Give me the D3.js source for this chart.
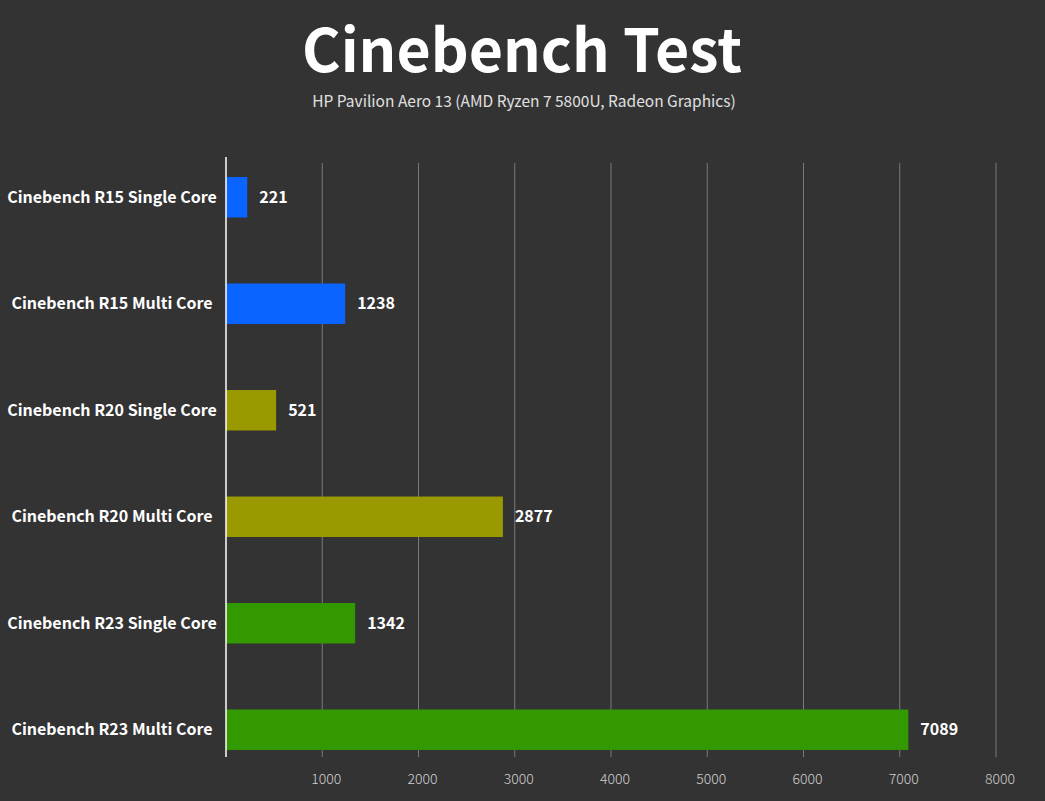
<!DOCTYPE html>
<html lang="en">
  <head>
    <meta charset="UTF-8" />
    <title>Cinebench Test</title>
    <script src="https://d3js.org/d3.v7.min.js"></script>
    <style>
      body {
        margin: 0;
        background-color: #333333;
        font-family: "Noto Sans CJK SC", "Noto Sans", sans-serif;
      }
      .bar-label {
        fill: #ffffff;
        font-size: 16px;
        font-weight: bold;
      }
      .value-label {
        fill: #ffffff;
        font-size: 16px;
        font-weight: bold;
      }
      .tick-label {
        fill: #d0d0d0;
        font-size: 14px;
        font-weight: 300;
      }
    </style>
  </head>
  <body>
    <div id="chart"></div>
    <script>
      // Data
      const tests = [
        "Cinebench R15 Single Core",
        "Cinebench R15 Multi Core",
        "Cinebench R20 Single Core",
        "Cinebench R20 Multi Core",
        "Cinebench R23 Single Core",
        "Cinebench R23 Multi Core",
      ];
      const scores = [221, 1238, 521, 2877, 1342, 7089];
      const versions = ["R15", "R15", "R20", "R20", "R23", "R23"];
      const tickValues = [1000, 2000, 3000, 4000, 5000, 6000, 7000, 8000];

      const width = 1045,
        height = 801;

      const svg = d3
        .select("#chart")
        .append("svg")
        .attr("width", width)
        .attr("height", height);

      svg
        .append("rect")
        .attr("width", width)
        .attr("height", height)
        .attr("fill", "#333333");

      // Title
      svg
        .append("text")
        .attr("x", 522)
        .attr("y", 72)
        .attr("text-anchor", "middle")
        .attr("fill", "#ffffff")
        .attr("font-size", "59px")
        .attr("font-weight", "bold")
        .text("Cinebench Test");

      svg
        .append("text")
        .attr("x", 524)
        .attr("y", 107)
        .attr("text-anchor", "middle")
        .attr("fill", "#e0e0e0")
        .attr("font-size", "15.5px")
        .text("HP Pavilion Aero 13 (AMD Ryzen 7 5800U, Radeon Graphics)");

      // Scales
      const x = d3.scaleLinear().domain([0, 8000]).range([226, 996]);

      const y = d3
        .scaleBand()
        .domain(tests)
        .range([144, 783])
        .paddingInner(0.62)
        .paddingOuter(0.31);

      const color = d3
        .scaleOrdinal()
        .domain(["R15", "R20", "R23"])
        .range(["#0a64ff", "#9a9a00", "#339900"]);

      // Gridlines
      svg
        .selectAll(".grid")
        .data(tickValues)
        .enter()
        .append("line")
        .attr("class", "grid")
        .attr("x1", (d) => x(d))
        .attr("x2", (d) => x(d))
        .attr("y1", 163)
        .attr("y2", 757)
        .attr("stroke", "#7a7a7a")
        .attr("stroke-width", 1);

      // Tick labels
      svg
        .selectAll(".tick-label")
        .data(tickValues)
        .enter()
        .append("text")
        .attr("class", "tick-label")
        .attr("x", (d) => x(d) + 4)
        .attr("y", 784)
        .attr("text-anchor", "middle")
        .text((d) => d);

      // Bars
      svg
        .selectAll(".bar")
        .data(tests)
        .enter()
        .append("rect")
        .attr("class", "bar")
        .attr("x", x(0))
        .attr("y", (d) => y(d))
        .attr("width", (d, i) => x(scores[i]) - x(0))
        .attr("height", y.bandwidth())
        .attr("fill", (d, i) => color(versions[i]));

      // Vertical axis line
      svg
        .append("line")
        .attr("x1", x(0))
        .attr("x2", x(0))
        .attr("y1", 157)
        .attr("y2", 757)
        .attr("stroke", "#ffffff")
        .attr("stroke-width", 1.5);

      // Category labels
      svg
        .selectAll(".bar-label")
        .data(tests)
        .enter()
        .append("text")
        .attr("class", "bar-label")
        .attr("x", 112)
        .attr("y", (d) => y(d) + y.bandwidth() / 2)
        .attr("dy", "0.35em")
        .attr("text-anchor", "middle")
        .text((d) => d);

      // Value labels
      svg
        .selectAll(".value-label")
        .data(tests)
        .enter()
        .append("text")
        .attr("class", "value-label")
        .attr("x", (d, i) => x(scores[i]) + 12)
        .attr("y", (d) => y(d) + y.bandwidth() / 2)
        .attr("dy", "0.35em")
        .text((d, i) => scores[i]);
    </script>
  </body>
</html>
